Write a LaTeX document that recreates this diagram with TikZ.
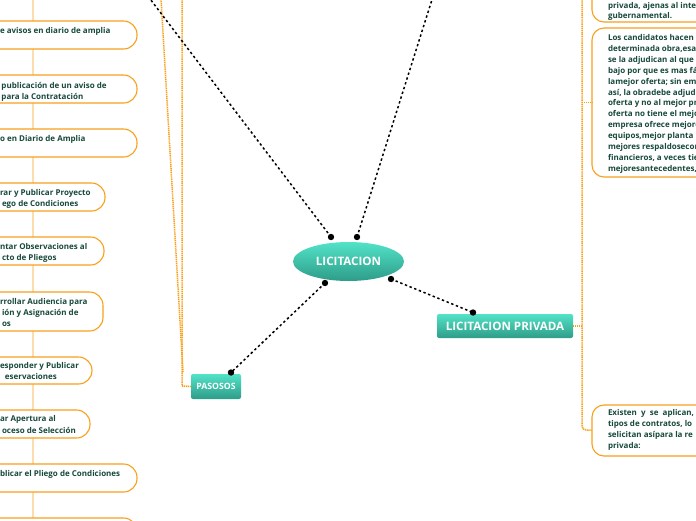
\documentclass[tikz,border=0pt]{standalone}
\usepackage{fontspec}
\setmainfont{Open Sans}
\usetikzlibrary{shapes.geometric}
\definecolor{tealtop}{HTML}{52E3C8}
\definecolor{tealbot}{HTML}{2E9C88}
\definecolor{orng}{HTML}{F9A01B}
\definecolor{lorng}{HTML}{FDDCAE}
\definecolor{txtg}{HTML}{17493B}
\tikzset{
  tealnode/.style={top color=tealtop, bottom color=tealbot, text=white, inner sep=0pt, font=\bfseries\fontsize{11.6}{13}\selectfont},
  bconn/.style={black, line width=1.5pt, dash pattern=on 2.4pt off 2.6pt},
  oconn/.style={orng, line width=1.5pt, dash pattern=on 1.2pt off 0.7pt},
  dotend/.style={black, fill=black},
  lbox/.style={orng, fill=white, line width=1.1pt, rounded corners=13.5pt},
  rbox/.style={orng, fill=white, line width=1.1pt, rounded corners=12pt},
  ltxt/.style={anchor=base west, inner sep=0pt, outer sep=0pt, text=txtg, font=\bfseries\fontsize{8}{10}\selectfont},
}
\begin{document}
\begin{tikzpicture}[x=1pt,y=-1pt]
\useasboundingbox (0,0) rectangle (696,520);
\clip (0,0) rectangle (696,520);
\fill[white] (0,0) rectangle (696,520);

% left column spine
\draw[lorng, line width=1.6pt] (33,-10) -- (33,530);
% left boxes
\draw[lbox] (-50,21) rectangle (137,49);
\draw[lbox] (-50,75) rectangle (137,103);
\draw[lbox] (-50,129) rectangle (137,157);
\draw[lbox] (-50,183) rectangle (105,211);
\draw[lbox] (-50,237) rectangle (104,265);
\draw[lbox] (-50,292) rectangle (103,331);
\draw[lbox] (-50,357) rectangle (92,384);
\draw[lbox] (-50,410) rectangle (90,438);
\draw[lbox] (-50,464) rectangle (137,492);
\draw[lbox] (-50,518) rectangle (137,546);
\node[ltxt] (l1) at (0,33) {e avisos en diario de amplia};
\node[ltxt, xshift=1.5pt] (l2a) at (0,88) {publicación de un aviso de};
\node[ltxt, xshift=1.5pt] (l2b) at (0,99) {para la Contratación};
\node[ltxt] (l3) at (0,141) {o en Diario de Amplia};
\node[ltxt] (l4a) at (0,195) {rar y Publicar Proyecto};
\node[ltxt, xshift=2pt] (l4b) at (0,206) {ego de Condiciones};
\node[ltxt] (l5a) at (0,249) {ntar Observaciones al};
\node[ltxt, xshift=2pt] (l5b) at (0,260) {cto de Pliegos};
\node[ltxt] (l6a) at (0,304) {rrollar Audiencia para};
\node[ltxt, xshift=2pt] (l6b) at (0,315) {ión y Asignación de};
\node[ltxt, xshift=2pt] (l6c) at (0,326) {os};
\node[ltxt] (l7a) at (0,368) {esponder y Publicar};
\node[ltxt, xshift=5pt] (l7b) at (0,379) {eservaciones};
\node[ltxt] (l8a) at (0,421) {ar Apertura al};
\node[ltxt, xshift=2pt] (l8b) at (0,433) {oceso de Selección};
\node[ltxt] (l9) at (0,476) {blicar el Pliego de Condiciones};

% main nodes
\node[tealnode, ellipse, minimum width=111pt, minimum height=39pt] (lic) at (348.5,261.5) {LICITACION};
\node[tealnode, rectangle, rounded corners=2pt, minimum width=136pt, minimum height=24pt] (priv) at (505,326) {LICITACION PRIVADA};
\node[tealnode, rectangle, rounded corners=2pt, minimum width=50pt, minimum height=25pt, font=\bfseries\fontsize{8.7}{10}\selectfont] (pas) at (216,386.5) {PASOSOS};

% orange connectors on the left
\coordinate (pl) at (182,386);
\coordinate (ptop1) at (182,-10);
\coordinate (ptop2) at (160.5,-10);
\draw[oconn] (pas.west) -- (pl) -- (ptop1);
\draw[oconn] (183,372) -- (ptop2);

% right column
\coordinate (rv) at (582,326);
\coordinate (rtop) at (582,-10);
\coordinate (rb2) at (592,102.5);
\coordinate (rb3) at (592,430);
\draw[rbox] (592,-40) rectangle (730,22);
\draw[rbox] (592,28) rectangle (730,177);
\draw[rbox] (592,405) rectangle (730,456);
\draw[oconn] (priv.east) -- (rv);
\draw[oconn, rounded corners=4pt] (rtop) -- (582,430) -- (rb3);
\draw[oconn] (582,102.5) -- (rb2);

\node[ltxt] (r1a) at (608,8) {privada, ajenas al inte};
\node[ltxt] (r1b) at (608,18.5) {gubernamental.};
\foreach \t [count=\i from 0] in {Los candidatos hacen,determinada obra{,}esa,se la adjudican al que,bajo por que es mas fá,lamejor oferta; sin em,así{,} la obradebe adjud,oferta y no al mejor pr,oferta no tiene el mejo,empresa ofrece mejore,equipos{,}mejor planta,mejores respaldosecon,financieros{,} a veces tie,mejoresantecedentes{,}}
  \node[ltxt] (r2-\i) at (608,40.5+10.9*\i) {\t};
\node[ltxt] (r3a) at (608,415.5) {Existen\ \ y\ \ se\ \ aplican,};
\node[ltxt] (r3b) at (608,426.5) {tipos\ de\ contratos,\ lo};
\node[ltxt] (r3c) at (608,437.5) {selicitan asípara la re};
\node[ltxt] (r3d) at (608,448.5) {privada:};

% black dotted connectors
\coordinate (a1) at (325,283);
\coordinate (a2) at (231,372.5);
\coordinate (b1) at (391,279);
\coordinate (b2) at (473,312.5);
\coordinate (c1) at (331,237);
\coordinate (c2) at (357,237);
\coordinate (cfar1) at (141,-13);
\coordinate (cfar2) at (436,-13);
\draw[bconn] (a1) -- (a2);
\draw[bconn] (b1) -- (b2);
\draw[bconn] (c1) -- (cfar1);
\draw[bconn] (c2) -- (cfar2);
\foreach \p in {a1,a2,b1,b2,c1,c2} \fill[dotend] (\p) circle (3.2pt);
\end{tikzpicture}
\end{document}
